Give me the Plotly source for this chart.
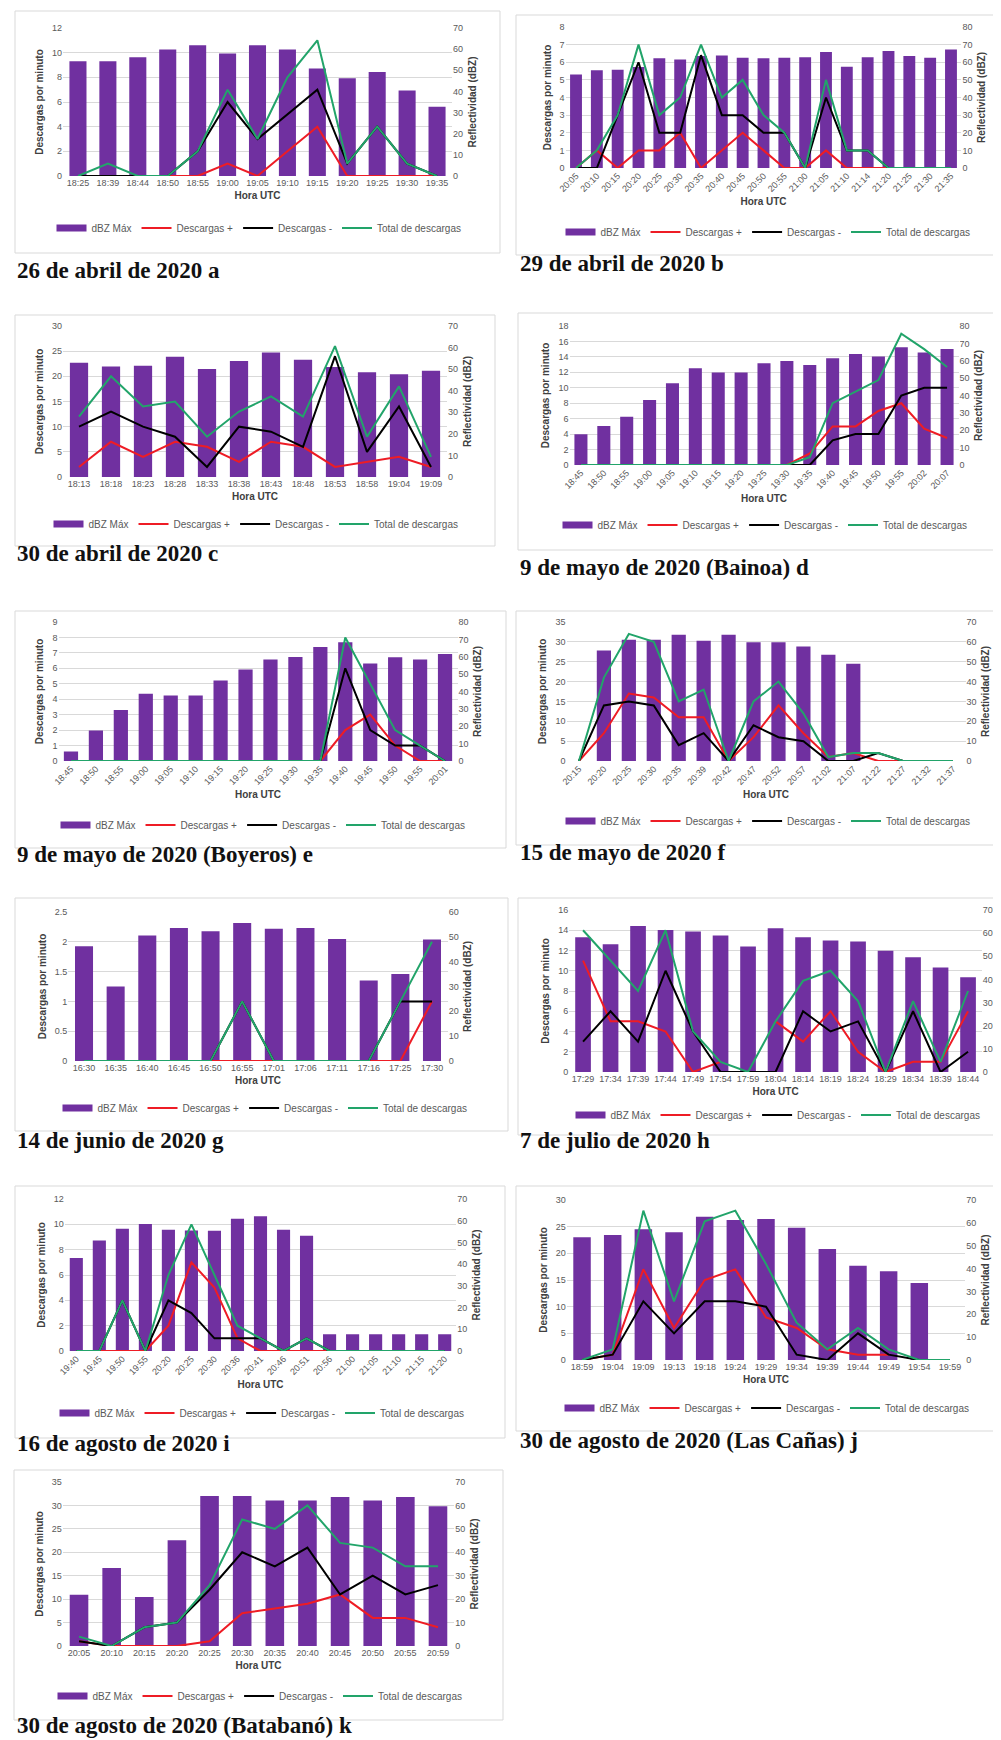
import plotly.graph_objects as go

# ---------------- data ----------------
A_TIMES = ["18:25", "18:39", "18:44", "18:50", "18:55", "19:00", "19:05", "19:10", "19:15", "19:20", "19:25", "19:30", "19:35"]
A_DBZ = [54.3, 54.3, 56.2, 59.8, 61.8, 57.9, 61.8, 59.8, 50.8, 46.2, 49.2, 40.4, 32.7]
A_POS = [0, 0, 0, 0, 0, 1, 0, 2, 4, 0, 0, 0, 0]
A_NEG = [0, 0, 0, 0, 2, 6, 3, 5, 7, 1, 4, 1, 0]
A_TOT = [0, 1, 0, 0, 2, 7, 3, 8, 11, 1, 4, 1, 0]

B_TIMES = ["20:05", "20:10", "20:15", "20:20", "20:25", "20:30", "20:35", "20:40", "20:45", "20:50",
           "20:55", "21:00", "21:05", "21:10", "21:14", "21:20", "21:25", "21:30", "21:35"]
B_DBZ = [53.1, 55.4, 55.7, 57.3, 62.2, 61.6, 63.5, 63.9, 62.6, 62.2, 62.6, 62.9, 65.8, 57.4, 62.9, 66.4, 63.5, 62.6, 67.3]
B_POS = [0, 1, 0, 1, 1, 2, 0, 1, 2, 1, 0, 0, 1, 0, 0, 0, None, None, None]
B_NEG = [0, 0, 3, 6, 2, 2, 6.4, 3, 3, 2, 2, 0, 4, 1, 1, 0, 0, 0, 0]
B_TOT = [0, 1, 3, 7, 3, 4, 7, 4, 5, 3, 2, 0, 5, 1, 1, 0, 0, 0, 0]

C_TIMES = ["18:13", "18:18", "18:23", "18:28", "18:33", "18:38", "18:43", "18:48", "18:53", "18:58", "19:04", "19:09"]
C_DBZ = [53.0, 51.2, 51.6, 55.8, 50.1, 53.8, 57.7, 54.3, 51.0, 48.6, 47.6, 49.2]
C_POS = [2, 7, 4, 7, 6, 3, 7, 6, 2, 3, 4, 2]
C_NEG = [10, 13, 10, 8, 2, 10, 9, 6, 24, 5, 14, 2]
C_TOT = [12, 20, 14, 15, 8, 13, 16, 12, 26, 8, 18, 4]

D_TIMES = ["18:45", "18:50", "18:55", "19:00", "19:05", "19:10", "19:15", "19:20", "19:25", "19:30",
           "19:35", "19:40", "19:45", "19:50", "19:55", "20:02", "20:07"]
D_DBZ = [17.7, 22.5, 27.8, 37.4, 47.0, 55.7, 53.2, 53.2, 58.5, 59.9, 57.6, 61.4, 63.9, 62.4, 67.8, 64.7, 66.8]
D_POS = [0, 0, 0, 0, 0, 0, 0, 0, 0, 0, 1.5, 5, 5, 7, 8, 4.7, 3.5]
D_NEG = [0, 0, 0, 0, 0, 0, 0, 0, 0, 0, 0, 3.2, 4, 4, 9, 10, 10]
D_TOT = [0, 0, 0, 0, 0, 0, 0, 0, 0, 0, 1, 8, 9.5, 11, 17, 15, 12.7]

E_TIMES = ["18:45", "18:50", "18:55", "19:00", "19:05", "19:10", "19:15", "19:20", "19:25", "19:30",
           "19:35", "19:40", "19:45", "19:50", "19:55", "20:01"]
E_DBZ = [5.4, 17.6, 29.3, 38.7, 37.7, 37.7, 46.3, 52.6, 58.4, 59.9, 65.6, 68.3, 56.1, 59.7, 58.4, 61.6]
E_POS = [0, 0, 0, 0, 0, 0, 0, 0, 0, 0, 0, 2, 3, 1, 0, 0]
E_NEG = [0, 0, 0, 0, 0, 0, 0, 0, 0, 0, 0, 6, 2, 1, 1, 0]
E_TOT = [0, 0, 0, 0, 0, 0, 0, 0, 0, 0, 0, 8, 5, 2, 1, 0]

F_TIMES = ["20:15", "20:20", "20:25", "20:30", "20:35", "20:39", "20:42", "20:47", "20:52", "20:57",
           "21:02", "21:07", "21:22", "21:27", "21:32", "21:37"]
F_DBZ = [None, 55.7, 61.1, 61.1, 63.6, 60.6, 63.6, 59.8, 59.8, 57.7, 53.5, 49.0, None, None, None, None]
F_POS = [0, 7, 17, 16, 11, 11, 0, 6, 14, 7, 1, 2, 0, 0, None, None]
F_NEG = [0, 14, 15, 14, 4, 7, 0, 9, 6, 5, 0, 0, 2, 0, 0, 0]
F_TOT = [0, 21, 32, 30, 15, 18, 0, 15, 20, 12, 1, 2, 2, 0, 0, 0]

G_TIMES = ["16:30", "16:35", "16:40", "16:45", "16:50", "16:55", "17:01", "17:06", "17:11", "17:16", "17:25", "17:30"]
G_DBZ = [46.2, 30.0, 50.5, 53.6, 52.2, 55.6, 53.3, 53.6, 49.1, 32.4, 35.0, 48.9]
G_POS = [0, 0, 0, 0, 0, 0, 0, 0, 0, 0, 0, 1]
G_NEG = [0, 0, 0, 0, 0, 1, 0, 0, 0, 0, 1, 1]
G_TOT = [0, 0, 0, 0, 0, 1, 0, 0, 0, 0, 1, 2]

H_TIMES = ["17:29", "17:34", "17:39", "17:44", "17:49", "17:54", "17:59", "18:04", "18:14", "18:19",
           "18:24", "18:29", "18:34", "18:39", "18:44"]
H_DBZ = [58.2, 55.2, 63.1, 61.4, 60.7, 59.0, 54.2, 62.1, 58.2, 56.8, 56.4, 52.4, 49.6, 45.2, 40.9]
H_POS = [11, 5, 5, 4, 0, 1, None, 5, 3, 6, 2, 0, 1, 1, 6]
H_NEG = [3, 6, 3, 10, 4, 0, 0, 0, 6, 4, 5, 0, 6, 0, 2]
H_TOT = [14, 11, 8, 14, 4, 1, 0, 5, 9, 10, 7, 0, 7, 1, 8]

I_TIMES = ["19:40", "19:45", "19:50", "19:55", "20:20", "20:25", "20:30", "20:36", "20:41", "20:46",
           "20:51", "20:56", "21:00", "21:05", "21:10", "21:15", "21:20"]
I_DBZ = [42.8, 50.9, 56.3, 58.5, 55.8, 55.5, 55.4, 60.9, 62.0, 55.8, 53.1, 7.7, 7.7, 7.7, 7.7, 7.7, 7.7]
I_POS = [0, 0, 0, 0, 2, 7, 5, 1, 0, 0, 0, 0, None, None, None, None, None]
I_NEG = [0, 0, 4, 0, 4, 3, 1, 1, 1, 0, 1, 0, 0, 0, 0, 0, 0]
I_TOT = [0, 0, 4, 0, 6, 10, 6, 2, 1, 0, 1, 0, 0, 0, 0, 0, 0]

J_TIMES = ["18:59", "19:04", "19:09", "19:13", "19:18", "19:24", "19:29", "19:34", "19:39", "19:44", "19:49", "19:54", "19:59"]
J_DBZ = [53.7, 54.7, 57.2, 55.9, 62.7, 61.2, 61.7, 57.9, 48.6, 41.2, 38.8, 33.7, None]
J_POS = [0, 1, 17, 6, 15, 17, 8, 6, 2, 1, 1, None, None]
J_NEG = [0, 1, 11, 5, 11, 11, 10, 1, 0, 5, 1, 0, 0]
J_TOT = [0, 2, 28, 11, 26, 28, 18, 7, 2, 6, 2, 0, 0]

K_TIMES = ["20:05", "20:10", "20:15", "20:20", "20:25", "20:30", "20:35", "20:40", "20:45", "20:50", "20:55", "20:59"]
K_DBZ = [21.9, 33.3, 20.9, 45.1, 64.0, 64.0, 62.1, 62.1, 63.6, 62.1, 63.6, 59.7]
K_POS = [1, 0, 0, 0, 1, 7, 8, 9, 11, 6, 6, 4]
K_NEG = [1, 0, 4, 5, 12, 20, 17, 21, 11, 15, 11, 13]
K_TOT = [2, 0, 4, 5, 13, 27, 25, 30, 22, 21, 17, 17]

# ---------------- styling / layout ----------------
W, H = 1001, 1740
PURPLE = "#7030A0"
RED = "#EE1C25"
BLACK = "#000000"
GREEN = "#22A46A"
GRID = "#D9D9D9"
TICK = "#595959"
AXT = "#404040"
SANS = "Liberation Sans, Arial, sans-serif"
SERIF = "Liberation Serif, Times New Roman, serif"
TITLE_SHIFT = -8
LEGEND_SHIFT = -8

PANELS = [
    dict(title="26 de abril de 2020 a", times=A_TIMES, dbz=A_DBZ, pos=A_POS, neg=A_NEG, tot=A_TOT,
         ymax=12, dy=2, y2max=70, rot=False, area=(55, 444, 20, 168), frame=(7, 492, 3, 245),
         tpos=(7, 270), lpos=(251, 228), y2t=True),
    dict(title="29 de abril de 2020 b", times=B_TIMES, dbz=B_DBZ, pos=B_POS, neg=B_NEG, tot=B_TOT,
         ymax=8, dy=1, y2max=80, rot=True, area=(557.6, 953.4, 19, 160), frame=(508, 1000, 7, 247),
         tpos=(510, 263), lpos=(760, 232), y2t=True),
    dict(title="30 de abril de 2020 c", times=C_TIMES, dbz=C_DBZ, pos=C_POS, neg=C_NEG, tot=C_TOT,
         ymax=30, dy=5, y2max=70, rot=False, area=(55, 439, 318, 469), frame=(7, 487, 307, 538),
         tpos=(7, 553), lpos=(248, 524), y2t=True),
    dict(title="9 de mayo de 2020 (Bainoa) d", times=D_TIMES, dbz=D_DBZ, pos=D_POS, neg=D_NEG, tot=D_TOT,
         ymax=18, dy=2, y2max=80, rot=True, area=(561.5, 950.5, 318, 457), frame=(510, 998, 305, 542),
         tpos=(510, 567), lpos=(757, 525), y2t=True),
    dict(title="9 de mayo de 2020 (Boyeros) e", times=E_TIMES, dbz=E_DBZ, pos=E_POS, neg=E_NEG, tot=E_TOT,
         ymax=9, dy=1, y2max=80, rot=True, area=(50.5, 449.5, 614, 753), frame=(7, 498, 603, 840),
         tpos=(7, 855), lpos=(255, 825), y2t=True),
    dict(title="15 de mayo de 2020 f", times=F_TIMES, dbz=F_DBZ, pos=F_POS, neg=F_NEG, tot=F_TOT,
         ymax=35, dy=5, y2max=70, rot=True, area=(558.5, 957.5, 614, 753), frame=(508, 1000, 603, 837),
         tpos=(510, 852), lpos=(760, 821), y2t=True),
    dict(title="14 de junio de 2020 g", times=G_TIMES, dbz=G_DBZ, pos=G_POS, neg=G_NEG, tot=G_TOT,
         ymax=2.5, dy=0.5, y2max=60, rot=False, area=(60.2, 439.8, 904, 1053), frame=(7, 500, 890, 1123),
         tpos=(7, 1140), lpos=(257, 1108), y2t=True),
    dict(title="7 de julio de 2020 h", times=H_TIMES, dbz=H_DBZ, pos=H_POS, neg=H_NEG, tot=H_TOT,
         ymax=16, dy=2, y2max=70, rot=False, area=(561.3, 973.8, 902, 1064), frame=(510, 1000, 890, 1127),
         tpos=(510, 1140), lpos=(770, 1115), y2t=False),
    dict(title="16 de agosto de 2020 i", times=I_TIMES, dbz=I_DBZ, pos=I_POS, neg=I_NEG, tot=I_TOT,
         ymax=12, dy=2, y2max=70, rot=True, area=(56.8, 448.2, 1191, 1343), frame=(7, 497, 1178, 1430),
         tpos=(7, 1443), lpos=(254, 1413), y2t=True),
    dict(title="30 de agosto de 2020 (Las Cañas) j", times=J_TIMES, dbz=J_DBZ, pos=J_POS, neg=J_NEG, tot=J_TOT,
         ymax=30, dy=5, y2max=70, rot=False, area=(558.7, 957.3, 1192, 1352), frame=(508, 1000, 1178, 1423),
         tpos=(510, 1440), lpos=(759, 1408), y2t=True),
    dict(title="30 de agosto de 2020 (Batabanó) k", times=K_TIMES, dbz=K_DBZ, pos=K_POS, neg=K_NEG, tot=K_TOT,
         ymax=35, dy=5, y2max=70, rot=False, area=(54.7, 446.3, 1474, 1638), frame=(6, 495, 1462, 1712),
         tpos=(7, 1725), lpos=(252, 1696), y2t=True),
]

fig = go.Figure()
layout = dict(
    width=W, height=H, margin=dict(l=0, r=0, t=0, b=0),
    paper_bgcolor="white", plot_bgcolor="rgba(0,0,0,0)",
    bargap=0.43, showlegend=True, font=dict(family=SANS, color=TICK),
)
shapes, annotations = [], []

for i, p in enumerate(PANELS):
    n = i + 1
    xid = "x" if n == 1 else f"x{n}"
    xkey = "xaxis" if n == 1 else f"xaxis{n}"
    yb = 2 * i + 1
    yo = 2 * i + 2
    ybid = "y" if yb == 1 else f"y{yb}"
    ybkey = "yaxis" if yb == 1 else f"yaxis{yb}"
    yoid = f"y{yo}"
    yokey = f"yaxis{yo}"
    leg = "legend" if n == 1 else f"legend{n}"
    x0, x1, yt, ybt = p["area"]
    dom_x = [x0 / W, x1 / W]
    dom_y = [1 - ybt / H, 1 - yt / H]

    layout[xkey] = dict(
        domain=dom_x, anchor=ybid, type="category", showgrid=False, zeroline=False,
        showline=False, ticks="", tickangle=-45 if p["rot"] else 0,
        tickfont=dict(size=9, color=TICK, family=SANS),
        title=dict(text="<b>Hora UTC</b>", font=dict(size=10, color=AXT, family=SANS), standoff=4),
        automargin=False, fixedrange=True,
    )
    layout[ybkey] = dict(
        domain=dom_y, anchor=xid, side="right", range=[0, p["y2max"]], dtick=10,
        showgrid=False, zeroline=False, showline=False, ticks="",
        tickfont=dict(size=9, color=TICK, family=SANS),
        title=dict(text="<b>Reflectividad (dBZ)</b>" if p["y2t"] else "",
                   font=dict(size=10, color=AXT, family=SANS), standoff=6),
        automargin=False, fixedrange=True,
    )
    layout[yokey] = dict(
        overlaying=ybid, anchor=xid, side="left", range=[0, p["ymax"]], dtick=p["dy"],
        showgrid=True, gridcolor=GRID, gridwidth=1, zeroline=False, showline=False, ticks="",
        tickfont=dict(size=9, color=TICK, family=SANS),
        title=dict(text="<b>Descargas por minuto</b>", font=dict(size=10, color=AXT, family=SANS), standoff=6),
        automargin=False, fixedrange=True,
    )
    lx, ly = p["lpos"]
    layout[leg] = dict(
        orientation="h", x=lx / W, y=1 - (ly + LEGEND_SHIFT) / H, xanchor="center", yanchor="middle",
        font=dict(size=10, color=TICK, family=SANS), bgcolor="rgba(0,0,0,0)",
        itemwidth=30, tracegroupgap=0, traceorder="normal",
    )

    # legend swatch for bars (wide rectangle like the original)
    fig.add_trace(go.Scatter(x=[p["times"][0]], y=[None], mode="lines", name="dBZ Máx",
                             line=dict(color=PURPLE, width=7), xaxis=xid, yaxis=ybid,
                             legend=leg, hoverinfo="skip"))
    fig.add_trace(go.Bar(x=p["times"], y=p["dbz"], name="dBZ Máx", marker=dict(color=PURPLE, line=dict(width=0)),
                         xaxis=xid, yaxis=ybid, showlegend=False, legend=leg))
    for name, vals, col in (("Descargas +", p["pos"], RED),
                            ("Descargas -", p["neg"], BLACK),
                            ("Total de descargas", p["tot"], GREEN)):
        fig.add_trace(go.Scatter(x=p["times"], y=vals, mode="lines", name=name,
                                 line=dict(color=col, width=2), connectgaps=False,
                                 xaxis=xid, yaxis=yoid, legend=leg))

    fx0, fx1, fy0, fy1 = p["frame"]
    shapes.append(dict(type="rect", xref="paper", yref="paper",
                       x0=fx0 / W, x1=fx1 / W, y0=1 - fy1 / H, y1=1 - fy0 / H,
                       line=dict(color=GRID, width=1), fillcolor="rgba(0,0,0,0)", layer="below"))
    tx, ty = p["tpos"]
    annotations.append(dict(text=f"<b>{p['title']}</b>", xref="paper", yref="paper",
                            x=tx / W, y=1 - (ty + TITLE_SHIFT) / H, xanchor="left", yanchor="middle",
                            showarrow=False, font=dict(family=SERIF, size=23, color="#111111")))

layout["shapes"] = shapes
layout["annotations"] = annotations
fig.update_layout(**layout)
fig.write_html("out.html")
